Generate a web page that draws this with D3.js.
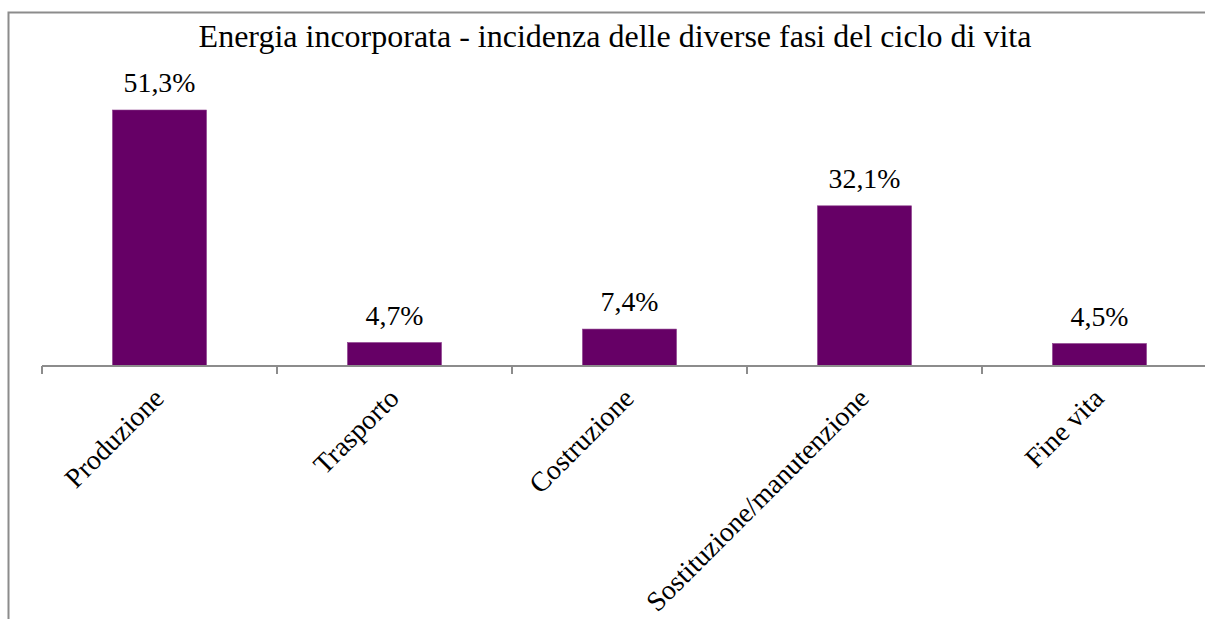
<!DOCTYPE html>
<html><head><meta charset="utf-8">
<script src="https://cdn.jsdelivr.net/npm/d3@7"></script>
<style>html,body{margin:0;padding:0;background:#fff;}svg{display:block;}</style>
</head><body>
<svg id="chart" width="1205" height="619"></svg>
<script>
const categories = ["Produzione", "Trasporto", "Costruzione", "Sostituzione/manutenzione", "Fine vita"];
const values = [51.3, 4.7, 7.4, 32.1, 4.5];
const valueLabels = ["51,3%", "4,7%", "7,4%", "32,1%", "4,5%"];
const title = "Energia incorporata - incidenza delle diverse fasi del ciclo di vita";

const svg = d3.select("#chart");
const font = "'Liberation Serif', 'Times New Roman', serif";
const axisY = 366;

// frame
svg.append("rect").attr("x", 8.5).attr("y", 12.5).attr("width", 1300).attr("height", 700)
  .attr("fill", "none").attr("stroke", "#8c8c8c").attr("stroke-width", 2);

const x = d3.scaleBand().domain(categories).range([42, 1217]).paddingInner(0.6).paddingOuter(0.3);
const y = d3.scaleLinear().domain([0, 60]).range([axisY, axisY - 299.4]);

svg.append("text").attr("x", 615).attr("y", 47).attr("text-anchor", "middle")
  .attr("font-family", font).attr("font-size", 32).attr("fill", "#000").text(title);

svg.selectAll("rect.bar").data(categories).enter().append("rect").attr("class", "bar")
  .attr("x", d => x(d)).attr("width", x.bandwidth())
  .attr("y", (d, i) => y(values[i])).attr("height", (d, i) => y(0) - y(values[i]))
  .attr("fill", "#660066").attr("stroke", "#8a3a8a").attr("stroke-width", 0.6);

svg.selectAll("text.val").data(categories).enter().append("text").attr("class", "val")
  .attr("x", d => x(d) + x.bandwidth() / 2).attr("y", (d, i) => y(values[i]) - 18)
  .attr("text-anchor", "middle").attr("font-family", font).attr("font-size", 27.8)
  .attr("fill", "#000").text((d, i) => valueLabels[i]);

// axis
const bounds = categories.map(d => x(d) - x.step() * x.paddingOuter()).concat([1217]);
svg.append("line").attr("x1", 42).attr("x2", 1217).attr("y1", axisY).attr("y2", axisY)
  .attr("stroke", "#8c8c8c").attr("stroke-width", 2);
svg.selectAll("line.tick").data(bounds).enter().append("line").attr("class", "tick")
  .attr("x1", d => d).attr("x2", d => d).attr("y1", axisY).attr("y2", axisY + 8)
  .attr("stroke", "#8c8c8c").attr("stroke-width", 2);

svg.selectAll("text.cat").data(categories).enter().append("text").attr("class", "cat")
  .attr("transform", d => `translate(${x(d) + x.bandwidth() / 2 + 6},${axisY + 34}) rotate(-45)`)
  .attr("text-anchor", "end").attr("font-family", font).attr("font-size", 27.8)
  .attr("fill", "#000").text(d => d);
</script>
</body></html>
